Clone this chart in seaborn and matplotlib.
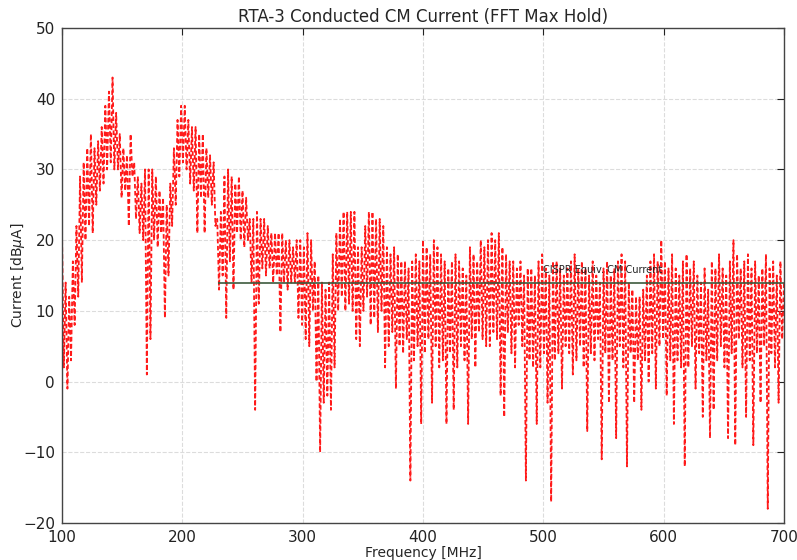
import numpy as np
import pandas as pd
import matplotlib
matplotlib.use("Agg")
import matplotlib.pyplot as plt
import seaborn as sns

# ---- data (dBuA) ----
# upper points of the max-hold ripple, every 3 MHz from 100 to 700 MHz
hi_level = [
    21, 14, 12, 17, 22, 29, 31, 33, 35, 33,
    34, 36, 39, 41, 43, 38, 35, 33, 32, 35,
    31, 29, 28, 30, 30, 30, 29, 27, 26, 25,
    28, 33, 37, 39, 39, 37, 36, 36, 35, 35,
    33, 32, 31, 23, 24, 29, 30, 29, 28, 29,
    27, 26, 23, 23, 24, 23, 23, 22, 21, 21,
    21, 21, 20, 20, 19, 20, 20, 19, 21, 20,
    17, 15, 14, 13, 14, 18, 21, 23, 24, 24,
    24, 24, 19, 19, 22, 24, 24, 23, 23, 22,
    19, 18, 19, 18, 17, 17, 16, 17, 18, 17,
    20, 19, 18, 20, 19, 18, 17, 16, 17, 18,
    17, 16, 15, 19, 18, 17, 20, 19, 20, 21,
    20, 21, 19, 18, 17, 17, 16, 17, 15, 16,
    16, 15, 17, 18, 16, 15, 17, 17, 16, 15,
    16, 17, 18, 16, 17, 16, 15, 17, 15, 14,
    16, 17, 15, 16, 17, 18, 17, 14, 13, 12,
    12, 13, 15, 17, 18, 17, 20, 17, 16, 18,
    16, 15, 17, 18, 16, 17, 15, 14, 16, 13,
    17, 16, 18, 16, 15, 17, 20, 18, 16, 17,
    18, 16, 17, 15, 16, 18, 16, 17, 15, 17,
    14,
]
# lower points of the ripple, midway between the upper points
lo_level = [
    2, -1, 3, 8, 12, 14, 20, 22, 21, 25,
    27, 28, 30, 31, 30, 30, 26, 27, 22, 29,
    23, 21, 20, 1, 6, 20, 19, 21, 9, 15,
    22, 25, 29, 31, 30, 28, 27, 21, 26, 21,
    26, 25, 22, 13, 15, 9, 17, 13, 21, 20,
    19, 20, 14, -4, 11, 16, 15, 16, 14, 15,
    7, 14, 13, 14, 14, 9, 8, 6, 5, 10,
    0, -10, -3, -2, -4, 2, 10, 12, 10, 11,
    10, 6, 5, 10, 12, 8, 9, 7, 10, 2,
    5, 7, -1, 5, 4, 6, -14, 3, 5, -6,
    4, 6, -3, 5, 2, 3, -6, 4, -4, 2,
    5, 3, -6, 6, 2, 7, 6, 5, 5, 7,
    6, -2, -5, 7, 4, 2, 8, 5, -14, 3,
    2, -6, 2, 4, -3, -17, 3, 4, -1, 5,
    4, 1, 3, 5, 2, -7, 4, 3, 6, -11,
    4, -3, 3, -8, 5, 2, -12, 4, -3, 3,
    -4, 3, 0, 4, -1, 5, 6, -2, 3, -6,
    3, 2, -12, 2, 5, -1, 4, -5, 3, -8,
    -4, 3, 5, 2, -8, 4, -9, 6, 2, -5,
    3, -9, 4, -3, 5, -18, 4, 2, -3, 6,
]
f_start, f_step = 100.0, 3.0
hi_freq = f_start + f_step * np.arange(len(hi_level))
lo_freq = hi_freq[:len(lo_level)] + f_step / 2

cispr_level = 14.0
cispr_start, cispr_stop = 230, 700
cispr_label = "CISPR Equiv. CM Current"

x_ticks = [100, 200, 300, 400, 500, 600, 700]
y_ticks = [-20, -10, 0, 10, 20, 30, 40, 50]

# ---- assemble trace ----
n = len(hi_level) + len(lo_level)
freq = np.empty(n)
level = np.empty(n)
freq[0::2] = hi_freq
freq[1::2] = lo_freq
level[0::2] = hi_level
level[1::2] = lo_level
df = pd.DataFrame({"Frequency": freq, "Current": level})

sns.set_theme(style="white")
plt.rcParams["font.family"] = ["DejaVu Sans"]

fig = plt.figure(figsize=(7.97, 5.6), dpi=100)
ax = fig.add_axes([0.0778, 0.0661, 0.9059, 0.8839])

sns.lineplot(data=df, x="Frequency", y="Current", ax=ax, color="#ff1a1a",
             linestyle="--", linewidth=1.3, sort=False, estimator=None)
ax.lines[0].set_dashes((2.5, 1.4))

ax.hlines(cispr_level, cispr_start, cispr_stop, color="#3d5a3d", linewidth=1.2, zorder=3)
ax.text(500, cispr_level + 1.3, cispr_label, fontsize=7, color="#222222", zorder=4)

ax.set_xlim(100, 700)
ax.set_ylim(-20, 50)
ax.set_xticks(x_ticks)
ax.set_yticks(y_ticks)
ax.grid(True, color="#dcdcdc", linestyle="--", linewidth=0.8)
ax.set_axisbelow(True)
ax.tick_params(direction="in", top=True, right=True, length=5, width=0.8,
               labelsize=11, colors="#222222", pad=5)
for s in ax.spines.values():
    s.set_color("#444444")
    s.set_linewidth(1.0)

ax.set_title("RTA-3 Conducted CM Current (FFT Max Hold)", fontsize=12, pad=4)
ax.set_xlabel("Frequency [MHz]", fontsize=10, labelpad=1)
ax.set_ylabel(r"Current [dB$\mu$A]", fontsize=10, labelpad=-3)

fig.savefig("out.png", dpi=100)
